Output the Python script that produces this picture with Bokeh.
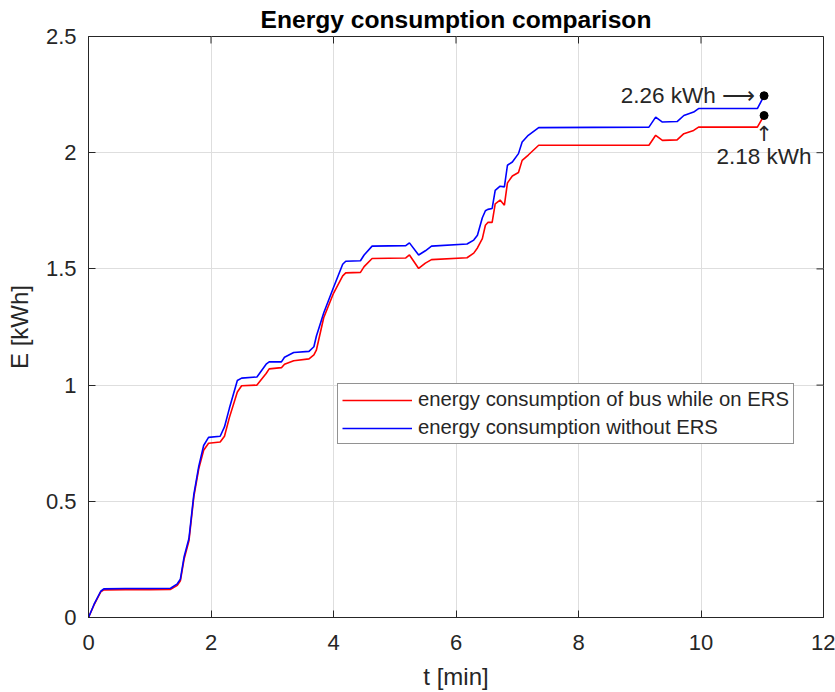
from bokeh.plotting import figure
from bokeh.models import Legend, LegendItem, FixedTicker, Range1d, ColumnDataSource
from bokeh.core.properties import value
from bokeh.embed import file_html
from bokeh.resources import INLINE

# ---------------- data ----------------
t_min = [0, 0.09, 0.2, 0.25, 0.6, 1.0, 1.34, 1.45, 1.5, 1.56, 1.64, 1.72, 1.8, 1.88,
         1.96, 2.15, 2.22, 2.3, 2.43, 2.5, 2.75, 2.9, 2.95, 3.15, 3.2, 3.35, 3.6,
         3.68, 3.72, 3.84, 4.0, 4.15, 4.2, 4.44, 4.5, 4.63, 5.18, 5.24, 5.39, 5.5,
         5.6, 6.18, 6.29, 6.35, 6.43, 6.48, 6.52, 6.59, 6.64, 6.72, 6.79, 6.84,
         6.92, 7.02, 7.08, 7.18, 7.35, 9.15, 9.26, 9.37, 9.61, 9.72, 9.88, 9.96,
         10.92, 11.03]

e_without_ers = [0, 0.056, 0.113, 0.123, 0.125, 0.125, 0.126, 0.145, 0.165, 0.26,
                 0.34, 0.53, 0.65, 0.74, 0.775, 0.78, 0.82, 0.90, 1.02, 1.03, 1.035,
                 1.09, 1.10, 1.10, 1.12, 1.14, 1.145, 1.165, 1.21, 1.31, 1.42, 1.52,
                 1.533, 1.535, 1.56, 1.598, 1.60, 1.612, 1.56, 1.578, 1.598, 1.607,
                 1.624, 1.645, 1.72, 1.75, 1.756, 1.76, 1.838, 1.856, 1.853, 1.946,
                 1.96, 1.996, 2.046, 2.075, 2.108, 2.11, 2.153, 2.132, 2.134, 2.16,
                 2.175, 2.19, 2.19, 2.245]

e_on_ers = [0, 0.054, 0.11, 0.119, 0.12, 0.12, 0.121, 0.138, 0.158, 0.25, 0.33,
            0.52, 0.64, 0.72, 0.75, 0.755, 0.78, 0.86, 0.97, 0.997, 1.0, 1.05, 1.07,
            1.075, 1.09, 1.105, 1.113, 1.13, 1.15, 1.29, 1.395, 1.47, 1.483, 1.485,
            1.51, 1.545, 1.547, 1.56, 1.502, 1.525, 1.54, 1.548, 1.568, 1.59, 1.63,
            1.688, 1.70, 1.70, 1.78, 1.796, 1.774, 1.87, 1.90, 1.915, 1.967, 1.99,
            2.032, 2.032, 2.075, 2.053, 2.055, 2.082, 2.096, 2.11, 2.11, 2.16]

x_ticks = [0, 2, 4, 6, 8, 10, 12]
y_ticks = [0, 0.5, 1, 1.5, 2, 2.5]
y_tick_labels = ["0", "0.5", "1", "1.5", "2", "2.5"]

series_labels = ["energy consumption of bus while on ERS",
                 "energy consumption without ERS"]
annot_blue = "2.26 kWh \u27f6"
annot_red_arrow = "\u2191"
annot_red = "2.18 kWh"

FONT = "Liberation Sans"
DARK = "#262626"
X0, X1, Y0, Y1 = 0, 12, 0, 2.5

p = figure(width=835, height=692, x_range=Range1d(X0, X1), y_range=Range1d(Y0, Y1),
           output_backend="svg", toolbar_location=None,
           title="Energy consumption comparison",
           min_border_left=88, min_border_right=12, min_border_top=36,
           min_border_bottom=74)
p.background_fill_color = "white"
p.border_fill_color = "white"
p.outline_line_color = DARK
p.outline_line_width = 1

p.title.align = "center"
p.title.vertical_align = "top"
p.title.text_font = FONT
p.title.text_font_size = "24.6px"
p.title.text_font_style = "bold"
p.title.text_color = "black"
p.title.text_line_height = 0.7
p.title.offset = 0
p.title.standoff = 3

p.xaxis.ticker = FixedTicker(ticks=x_ticks)
p.yaxis.ticker = FixedTicker(ticks=y_ticks)
p.yaxis.major_label_overrides = {v: s for v, s in zip(y_ticks, y_tick_labels)}
p.xaxis.axis_label = "t [min]"
p.yaxis.axis_label = "E [kWh]"

for ax in [p.xaxis[0], p.yaxis[0]]:
    ax.axis_line_color = DARK
    ax.major_tick_line_color = DARK
    ax.minor_tick_line_color = None
    ax.major_tick_in = 7
    ax.major_tick_out = 0
    ax.major_label_text_font = FONT
    ax.major_label_text_font_size = "22px"
    ax.major_label_text_color = DARK
    ax.axis_label_text_font = FONT
    ax.axis_label_text_font_size = "24px"
    ax.axis_label_text_font_style = "normal"
    ax.axis_label_text_color = DARK
p.xaxis.major_label_standoff = 17
p.xaxis.axis_label_standoff = 10
p.yaxis.major_label_standoff = 12
p.yaxis.axis_label_standoff = 10

p.grid.grid_line_color = "#dedede"
p.grid.grid_line_width = 1

# mirrored ticks on top and right edges of the box (from the tick arrays)
tick_dx = (X1 - X0) * 7 / 735
tick_dy = (Y1 - Y0) * 7 / 582
p.segment(x0=x_ticks, x1=x_ticks, y0=[Y1] * len(x_ticks),
          y1=[Y1 - tick_dy] * len(x_ticks), line_color=DARK, line_width=1)
p.segment(x0=[X1] * len(y_ticks), x1=[X1 - tick_dx] * len(y_ticks), y0=y_ticks,
          y1=y_ticks, line_color=DARK, line_width=1)

src = ColumnDataSource(dict(t=t_min, red=e_on_ers, blue=e_without_ers))
r_red = p.line("t", "red", source=src, line_color="#ff0000", line_width=1.6)
r_blue = p.line("t", "blue", source=src, line_color="#0000ff", line_width=1.6)

# end points
p.scatter([t_min[-1], t_min[-1]], [e_without_ers[-1], e_on_ers[-1]], size=8,
          color="black")
p.text(x=[t_min[-1]], y=[e_without_ers[-1]], text=[annot_blue], text_align="right",
       text_baseline="middle", x_offset=-9, text_font=value(FONT),
       text_font_size="22.5px", text_color=DARK)
p.text(x=[t_min[-1]], y=[e_on_ers[-1]], text=[annot_red_arrow], text_align="center",
       text_baseline="top", y_offset=6, text_font=value("DejaVu Sans"),
       text_font_size="21px", text_color=DARK)
p.text(x=[t_min[-1]], y=[e_on_ers[-1]], text=[annot_red], text_align="center",
       text_baseline="top", y_offset=28, text_font=value(FONT),
       text_font_size="22.5px", text_color=DARK)

legend = Legend(items=[LegendItem(label=series_labels[0], renderers=[r_red]),
                       LegendItem(label=series_labels[1], renderers=[r_blue])],
                location=(249, 173))
legend.border_line_color = DARK
legend.border_line_width = 1
legend.background_fill_alpha = 1
legend.label_text_font = FONT
legend.label_text_font_size = "20.3px"
legend.label_text_color = DARK
legend.glyph_width = 70
legend.glyph_height = 22
legend.label_height = 22
legend.spacing = 5
legend.padding = 4
legend.margin = 0
legend.label_standoff = 6
p.add_layout(legend)

open("out.html", "w").write(file_html(p, INLINE))
